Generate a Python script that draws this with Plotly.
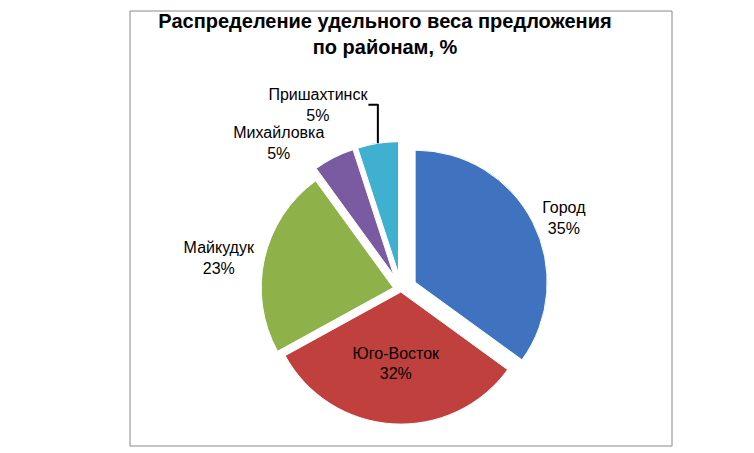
import plotly.graph_objects as go

labels = ["Город", "Юго-Восток", "Майкудук", "Михайловка", "Пришахтинск"]
values = [35, 32, 23, 5, 5]
colors = ["#3F73C0", "#C0403D", "#8FB14A", "#7A5AA0", "#3FB0CF"]
pulls = [0.12, 0.02, 0.06, 0.12, 0.12]
positions = ["outside", "inside", "outside", "outside", "outside"]

fig = go.Figure(go.Pie(
    labels=labels, values=values, sort=False, direction="clockwise", rotation=0,
    marker=dict(colors=colors, line=dict(color="white", width=1)),
    pull=pulls, textposition=positions, textinfo="label+percent",
    texttemplate="%{label}<br>%{percent:.0%}",
    textfont=dict(family="Liberation Sans, Arial", size=16, color="black"),
    insidetextorientation="horizontal", showlegend=False,
    domain=dict(x=[0.1, 0.9], y=[0.02, 0.70]),
))
fig.update_layout(
    width=754, height=453, paper_bgcolor="white",
    margin=dict(l=3, r=3, t=3, b=3),
    title=dict(text="<b>Распределение удельного веса предложения<br>по районам, %</b>",
               x=0.5, y=0.955, xanchor="center", yanchor="top",
               font=dict(family="Liberation Sans, Arial", size=20, color="black")),
    shapes=[dict(type="rect", xref="paper", yref="paper", x0=0, y0=0, x1=1, y1=1,
                 line=dict(color="#888888", width=1))],
)
fig.write_html("out.html")
